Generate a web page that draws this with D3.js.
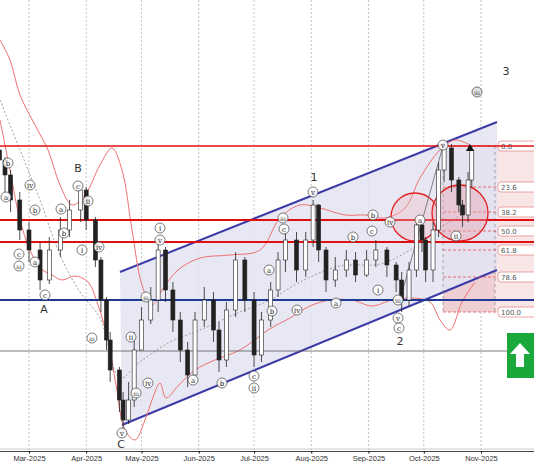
<!DOCTYPE html>
<html><head><meta charset="utf-8">
<script src="https://cdn.jsdelivr.net/npm/d3@7/dist/d3.min.js"></script>
<style>body{margin:0;background:#fff}svg{display:block;font-family:"DejaVu Sans",sans-serif}</style>
</head><body><svg id="c" width="534" height="462"></svg>
<script>
const candleDates=["2025-02-13","2025-02-16","2025-02-19","2025-02-24","2025-03-01","2025-03-07","2025-03-12","2025-03-18","2025-03-23","2025-03-29","2025-04-01","2025-04-06","2025-04-09","2025-04-12","2025-04-14","2025-04-19","2025-04-21","2025-04-24","2025-04-27","2025-05-01","2025-05-06","2025-05-10","2025-05-14","2025-05-18","2025-05-22","2025-05-26","2025-05-30","2025-06-04","2025-06-09","2025-06-12","2025-06-16","2025-06-21","2025-06-26","2025-07-01","2025-07-05","2025-07-10","2025-07-14","2025-07-18","2025-07-24","2025-07-29","2025-08-02","2025-08-05","2025-08-09","2025-08-14","2025-08-20","2025-08-25","2025-08-31","2025-09-05","2025-09-11","2025-09-16","2025-09-19","2025-09-23","2025-09-27","2025-09-30","2025-10-02","2025-10-06","2025-10-09","2025-10-12","2025-10-16","2025-10-20","2025-10-22","2025-10-25","2025-10-27"];
const closes=[302,287,262,232,212,182,212,232,252,272,242,202,162,122,92,62,42,62,112,142,162,212,172,142,112,87,142,162,132,102,152,202,162,107,142,172,202,222,192,222,257,212,182,192,202,187,202,212,197,182,162,192,237,222,192,232,292,314,282,257,247,282,312];
const highs=[320,305,292,270,240,220,225,245,262,280,275,245,205,165,130,95,70,80,130,155,175,222,215,180,150,120,150,175,170,140,160,210,205,170,150,180,210,235,230,230,262,258,215,205,212,210,212,222,215,200,190,200,245,240,225,240,300,320,318,285,262,290,316];
const lows=[285,270,250,222,200,172,178,205,225,240,232,195,150,112,80,50,30,38,55,135,138,150,160,130,100,75,80,135,120,90,95,145,150,95,100,135,165,190,180,185,215,200,170,175,185,180,185,195,185,170,150,155,185,210,180,180,225,280,270,250,235,240,275];
const upperBand=[[0,40],[10,60],[20,95],[35,125],[48,150],[60,185],[72,205],[85,195],[100,165],[112,148],[122,170],[132,230],[142,285],[152,305],[162,290],[178,270],[200,258],[230,255],[260,250],[280,218],[300,205],[320,208],[345,215],[365,215],[385,218],[405,208],[420,178],[440,150],[455,140],[470,145]];
const lowerBand=[[0,120],[10,170],[20,220],[30,250],[40,268],[52,275],[62,280],[75,276],[88,282],[98,305],[108,340],[116,385],[125,430],[135,440],[145,420],[152,400],[160,383],[166,398],[178,386],[195,370],[215,360],[240,350],[268,330],[290,318],[310,306],[330,300],[352,300],[372,306],[392,300],[412,298],[430,302],[440,320],[450,330],[462,302],[475,282]];
const midBand=[[0,100],[20,150],[40,200],[60,255],[80,292],[100,318],[120,378],[140,362],[170,342],[200,330],[240,312],[270,300],[300,282],[340,266],[380,264],[410,250],[440,228],[470,210]];
const hLevels=[{y:146,c:"#e01010",w:1.6},{y:220,c:"#e01010",w:2},{y:242,c:"#e01010",w:2},{y:300,c:"#1f3a93",w:1.8},{y:351,c:"#555",w:0.8}];
const fibLabels=["0.0","23.6","38.2","50.0","61.8","78.6","100.0"];
const fibY=[146,187,212,231,250,277,312];
const waveLabels=[["A",44,313],["B",78,172],["C",121,448],["1",314,181],["2",400,345],["3",506,75]];
const circleLabels=[["b",8,163],["a",6,197],["iv",30,185],["b",35,210],["c",19,254],["iii",19,266],["a",35,262],["c",45,295],["a",61,209],["b",64,233],["c",78,186],["ii",88,201],["i",82,250],["iv",99,247],["iii",92,338],["ii",131,337],["v",160,240],["i",160,228],["iii",146,297],["iv",148,383],["iii",136,393],["v",122,433],["a",193,380],["b",222,383],["c",254,376],["ii",254,388],["a",269,270],["b",272,311],["c",284,229],["iii",283,218],["iv",297,310],["v",313,192],["a",336,303],["b",353,237],["c",372,231],["b",373,215],["i",378,290],["iii",398,300],["iv",390,222],["v",398,318],["c",399,328],["a",420,220],["ii",456,236],["iii",477,92],["v",443,145]];
const monthTicks=["2025-03-01","2025-04-01","2025-05-01","2025-06-01","2025-07-01","2025-08-01","2025-09-01","2025-10-01","2025-11-01"];

const svg=d3.select("#c");
const parse=d3.timeParse("%Y-%m-%d");
const x=d3.scaleTime().domain([parse("2025-03-01"),parse("2025-11-01")]).range([29,481]);
const y=d3.scaleLinear().domain([0,462]).range([462,0]);
const py=d3.scaleLinear().domain([0,462]).range([0,462]);

svg.append("g").selectAll("line").data(monthTicks).join("line")
 .attr("x1",d=>x(parse(d))).attr("x2",d=>x(parse(d))).attr("y1",0).attr("y2",451)
 .attr("stroke","#aaa").attr("stroke-dasharray","2,2").attr("stroke-width",0.7);

svg.append("rect").attr("x",443).attr("y",146).attr("width",91).attr("height",166).attr("fill","#f6dede").attr("opacity",0.8);
svg.append("rect").attr("x",443).attr("y",146).attr("width",52).attr("height",166).attr("fill","#e9c6cc").attr("opacity",0.7);

svg.append("polygon").attr("points",[[120,272],[497,122],[497,270],[122,425]].map(p=>p.join(",")).join(" ")).attr("fill","#e4e4f3").attr("opacity",0.85);
[[120,272,497,122],[122,425,497,270]].forEach(l=>svg.append("line").attr("x1",l[0]).attr("y1",l[1]).attr("x2",l[2]).attr("y2",l[3]).attr("stroke","#3b3ba8").attr("stroke-width",2));

svg.append("g").selectAll("line").data(fibY).join("line").attr("x1",443).attr("x2",500).attr("y1",d=>d).attr("y2",d=>d).attr("stroke","#e05050").attr("stroke-dasharray","3,2").attr("stroke-width",0.8);
svg.append("g").selectAll("line").data([443,495]).join("line").attr("x1",d=>d).attr("x2",d=>d).attr("y1",146).attr("y2",312).attr("stroke","#777").attr("stroke-dasharray","3,3").attr("stroke-width",0.6);
const fg=svg.append("g").selectAll("g").data(fibLabels).join("g").attr("transform",(d,i)=>`translate(498,${fibY[i]})`);
fg.append("rect").attr("x",0).attr("y",-5).attr("width",40).attr("height",10).attr("rx",3).attr("fill","#fff").attr("stroke","#e08080").attr("stroke-width",0.7);
fg.append("text").attr("x",3).attr("y",3).attr("font-size",7).attr("fill","#555").text(d=>d);

const line=d3.line().x(d=>d[0]).y(d=>py(d[1])).curve(d3.curveCatmullRom);
svg.append("path").attr("d",line(upperBand)).attr("fill","none").attr("stroke","#f07070").attr("stroke-width",1);
svg.append("path").attr("d",line(lowerBand)).attr("fill","none").attr("stroke","#f07070").attr("stroke-width",1);
svg.append("path").attr("d",line(midBand)).attr("fill","none").attr("stroke","#888").attr("stroke-dasharray","2,2").attr("stroke-width",0.8);

svg.append("g").selectAll("line").data(hLevels).join("line").attr("x1",0).attr("x2",534).attr("y1",d=>d.y).attr("y2",d=>d.y).attr("stroke",d=>d.c).attr("stroke-width",d=>d.w);

svg.append("circle").attr("cx",415).attr("cy",217).attr("r",24).attr("fill","#f2b8c0").attr("fill-opacity",0.35).attr("stroke","#e02020").attr("stroke-width",1.3);
svg.append("circle").attr("cx",460).attr("cy",213).attr("r",28).attr("fill","#e8a0b0").attr("fill-opacity",0.4).attr("stroke","#e02020").attr("stroke-width",1.3);

svg.append("line").attr("x1",400).attr("y1",300).attr("x2",443).attr("y2",146).attr("stroke","#666").attr("stroke-width",0.8);

const data=candleDates.map((d,i)=>({t:parse(d),o:i?closes[i-1]:closes[0]+10,c:closes[i],h:highs[i],l:lows[i]}));
const cg=svg.append("g").selectAll("g").data(data).join("g");
cg.append("line").attr("x1",d=>x(d.t)).attr("x2",d=>x(d.t)).attr("y1",d=>y(d.h)).attr("y2",d=>y(d.l)).attr("stroke","#222").attr("stroke-width",0.8);
cg.append("rect").attr("x",d=>x(d.t)-2).attr("width",4).attr("y",d=>y(Math.max(d.o,d.c))).attr("height",d=>Math.max(1,Math.abs(y(d.o)-y(d.c))))
 .attr("fill",d=>d.c>=d.o?"#fff":"#222").attr("stroke","#222").attr("stroke-width",0.6);

const cl=svg.append("g").selectAll("g").data(circleLabels).join("g").attr("transform",d=>`translate(${d[1]},${d[2]})`);
cl.append("circle").attr("r",5).attr("fill",d=>d[0]==="iii"&&d[1]>470?"#ddd":"#fff").attr("stroke","#444").attr("stroke-width",0.7).attr("fill-opacity",0.9);
cl.append("text").attr("text-anchor","middle").attr("y",2.5).attr("font-size",d=>d[0].length>2?5.5:7).attr("font-family","DejaVu Serif").attr("fill","#222").text(d=>d[0]);
svg.append("g").selectAll("text").data(waveLabels).join("text").attr("x",d=>d[1]).attr("y",d=>d[2]).attr("text-anchor","middle").attr("font-size",11).attr("fill","#333").text(d=>d[0]);

svg.append("path").attr("d","M466,151 L470,144 L474,151 Z").attr("fill","#111");

svg.append("rect").attr("x",507).attr("y",333).attr("width",27).attr("height",45).attr("fill","#1aa83a");
svg.append("path").attr("d","M520,343 L530,354 L524,354 L524,367 L516,367 L516,354 L510,354 Z").attr("fill","#fff");

svg.append("rect").attr("x",0).attr("y",450).attr("width",534).attr("height",12).attr("fill","#fff");
svg.append("line").attr("x1",0).attr("x2",534).attr("y1",449).attr("y2",449).attr("stroke","#ccc");
svg.append("line").attr("x1",0).attr("x2",534).attr("y1",451.5).attr("y2",451.5).attr("stroke","#444");
const ax=svg.append("g").attr("transform","translate(0,451.5)").call(d3.axisBottom(x).tickValues(monthTicks.map(parse)).tickFormat(d3.timeFormat("%b-%Y")).tickSize(2));
ax.select(".domain").remove();
ax.selectAll("text").attr("font-size",7.5).attr("fill","#333").attr("dy","0.55em");
</script></body></html>
